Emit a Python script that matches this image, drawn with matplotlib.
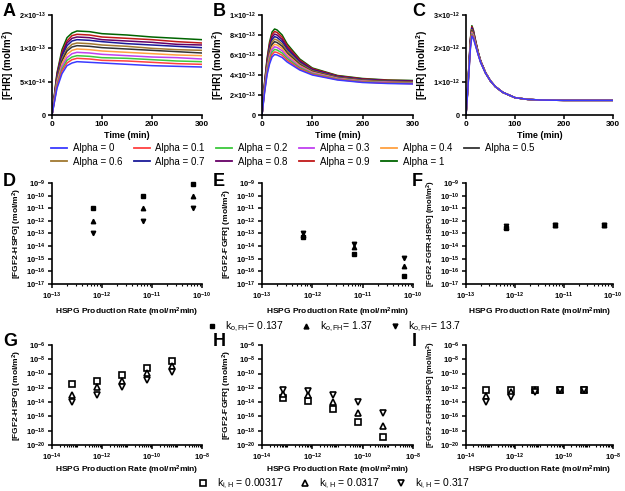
import matplotlib
matplotlib.use("Agg")
import matplotlib.pyplot as plt
from matplotlib.lines import Line2D
from matplotlib.ticker import FixedLocator, FixedFormatter, LogLocator, NullFormatter

plt.rcParams["font.family"] = ["Liberation Sans", "DejaVu Sans"]
plt.rcParams["mathtext.fontset"] = "custom"
plt.rcParams["mathtext.rm"] = "Liberation Sans"
plt.rcParams["mathtext.it"] = "Liberation Sans:italic"
plt.rcParams["mathtext.bf"] = "Liberation Sans:bold"

W, H = 625, 491

# ── Data: time courses (A-C) ────────────────────────────────────────────────
ALPHAS = [0, 0.1, 0.2, 0.3, 0.4, 0.5, 0.6, 0.7, 0.8, 0.9, 1]
ALPHA_COLORS = ["#3a3aff", "#ff4040", "#3cc83c", "#c040f0", "#ffa040", "#333333",
                "#a07830", "#1a1a99", "#660066", "#c01818", "#006400"]

TIME_A = [0, 5, 10, 20, 30, 40, 50, 75, 100, 150, 200, 250, 300]
FHR_A = [  # x 1e-13 mol/m2
    [0, 0.20, 0.40, 0.62, 0.74, 0.78, 0.80, 0.79, 0.78, 0.76, 0.74, 0.73, 0.72],
    [0, 0.21, 0.43, 0.66, 0.78, 0.83, 0.85, 0.84, 0.82, 0.81, 0.79, 0.77, 0.76],
    [0, 0.22, 0.45, 0.69, 0.82, 0.87, 0.89, 0.88, 0.86, 0.85, 0.83, 0.81, 0.80],
    [0, 0.24, 0.47, 0.73, 0.86, 0.92, 0.94, 0.93, 0.91, 0.89, 0.87, 0.86, 0.84],
    [0, 0.25, 0.50, 0.77, 0.91, 0.97, 0.99, 0.98, 0.96, 0.94, 0.92, 0.90, 0.89],
    [0, 0.26, 0.52, 0.81, 0.96, 1.02, 1.04, 1.03, 1.01, 0.99, 0.97, 0.95, 0.93],
    [0, 0.27, 0.54, 0.84, 0.99, 1.06, 1.08, 1.07, 1.05, 1.03, 1.00, 0.98, 0.97],
    [0, 0.28, 0.57, 0.88, 1.04, 1.11, 1.13, 1.12, 1.10, 1.07, 1.05, 1.03, 1.01],
    [0, 0.29, 0.59, 0.91, 1.08, 1.15, 1.17, 1.16, 1.13, 1.11, 1.09, 1.06, 1.05],
    [0, 0.30, 0.61, 0.94, 1.11, 1.19, 1.21, 1.20, 1.17, 1.15, 1.13, 1.10, 1.08],
    [0, 0.32, 0.63, 0.98, 1.16, 1.23, 1.26, 1.25, 1.22, 1.20, 1.17, 1.15, 1.13],
]

TIME_B = [0, 5, 10, 15, 20, 25, 30, 40, 50, 75, 100, 150, 200, 250, 300]
FHR_B = [  # x 1e-13 mol/m2
    [0, 2.20, 4.00, 5.10, 5.80, 6.05, 6.00, 5.75, 5.30, 4.50, 4.00, 3.50, 3.25, 3.15, 3.10],
    [0, 2.30, 4.16, 5.32, 6.05, 6.31, 6.25, 5.98, 5.48, 4.61, 4.07, 3.55, 3.29, 3.19, 3.14],
    [0, 2.40, 4.32, 5.54, 6.30, 6.56, 6.50, 6.20, 5.66, 4.72, 4.14, 3.59, 3.33, 3.22, 3.17],
    [0, 2.50, 4.48, 5.76, 6.55, 6.82, 6.75, 6.43, 5.84, 4.83, 4.21, 3.64, 3.37, 3.26, 3.21],
    [0, 2.60, 4.64, 5.98, 6.80, 7.07, 7.00, 6.65, 6.02, 4.94, 4.28, 3.68, 3.41, 3.29, 3.24],
    [0, 2.70, 4.80, 6.20, 7.05, 7.33, 7.25, 6.88, 6.20, 5.05, 4.35, 3.73, 3.45, 3.33, 3.28],
    [0, 2.80, 4.96, 6.42, 7.30, 7.58, 7.50, 7.10, 6.38, 5.16, 4.42, 3.77, 3.49, 3.36, 3.31],
    [0, 2.90, 5.12, 6.64, 7.55, 7.84, 7.75, 7.33, 6.56, 5.27, 4.49, 3.82, 3.53, 3.40, 3.35],
    [0, 3.00, 5.28, 6.86, 7.80, 8.09, 8.00, 7.55, 6.74, 5.38, 4.56, 3.86, 3.57, 3.43, 3.38],
    [0, 3.10, 5.44, 7.08, 8.05, 8.35, 8.25, 7.78, 6.92, 5.49, 4.63, 3.91, 3.61, 3.47, 3.42],
    [0, 3.20, 5.60, 7.30, 8.30, 8.60, 8.50, 8.00, 7.10, 5.60, 4.70, 3.95, 3.65, 3.50, 3.45],
]

TIME_C = [0, 3, 6, 9, 12, 15, 20, 25, 30, 40, 50, 60, 75, 100, 125, 150, 200, 250, 300]
FHR_C_HEAD = [  # x 1e-12 mol/m2, t = 0..40
    [0, 0.60, 1.30, 2.00, 2.37, 2.30, 2.05, 1.80, 1.57, 1.25],
    [0, 0.61, 1.32, 2.03, 2.40, 2.33, 2.07, 1.81, 1.58, 1.25],
    [0, 0.62, 1.34, 2.06, 2.43, 2.35, 2.08, 1.82, 1.58, 1.25],
    [0, 0.63, 1.36, 2.09, 2.46, 2.38, 2.10, 1.82, 1.59, 1.26],
    [0, 0.64, 1.38, 2.12, 2.49, 2.40, 2.11, 1.83, 1.59, 1.26],
    [0, 0.65, 1.40, 2.15, 2.53, 2.43, 2.13, 1.84, 1.60, 1.26],
    [0, 0.66, 1.42, 2.18, 2.56, 2.45, 2.14, 1.85, 1.60, 1.26],
    [0, 0.67, 1.44, 2.21, 2.59, 2.48, 2.16, 1.86, 1.61, 1.26],
    [0, 0.68, 1.46, 2.24, 2.62, 2.50, 2.17, 1.86, 1.61, 1.27],
    [0, 0.69, 1.48, 2.27, 2.65, 2.53, 2.19, 1.87, 1.62, 1.27],
    [0, 0.70, 1.50, 2.30, 2.68, 2.55, 2.20, 1.88, 1.62, 1.27],
]
FHR_C_TAIL = [1.02, 0.85, 0.68, 0.52, 0.47, 0.45, 0.44, 0.44, 0.44]  # t = 50..300

# ── Data: HSPG production rate scans ────────────────────────────────────────
RATE_DEF = [6.6e-13, 6.6e-12, 6.6e-11]
KO_LABELS = [r"k$_\mathregular{o,FH}$= 0.137", r"k$_\mathregular{o,FH}$= 1.37",
             r"k$_\mathregular{o,FH}$= 13.7"]
D_VALS = [[1e-11, 1e-10, 8e-10], [1e-12, 1e-11, 1e-10], [1e-13, 1e-12, 1e-11]]
E_VALS = [[5e-14, 2.5e-15, 4e-17], [7e-14, 9e-15, 2.8e-16], [1.1e-13, 1.6e-14, 1.1e-15]]
F_VALS = [[2.6e-13, 4.5e-13, 4.5e-13], [3.3e-13, 4.5e-13, 4.5e-13], [3.6e-13, 4.5e-13, 4.5e-13]]

RATE_GHI = [6.6e-14, 6.6e-13, 6.6e-12, 6.6e-11, 6.6e-10]
KI_LABELS = [r"k$_\mathregular{i,H}$ = 0.00317", r"k$_\mathregular{i,H}$ = 0.0317",
             r"k$_\mathregular{i,H}$ = 0.317"]
G_VALS = [[3.9e-12, 8e-12, 7e-11, 7e-10, 6e-9],
          [1.1e-13, 1.3e-12, 1e-11, 1.3e-10, 1e-9],
          [1.2e-14, 1.1e-13, 1.5e-12, 1.4e-11, 1.6e-10]]
H_VALS = [[4e-14, 1.3e-14, 1e-15, 1.6e-17, 1.5e-19],
          [1.6e-13, 1.1e-13, 1e-14, 3.5e-16, 5e-18],
          [4.5e-13, 3.2e-13, 1.1e-13, 1e-14, 3.5e-16]]
I_VALS = [[4.5e-13, 5.5e-13, 5.5e-13, 5.5e-13, 5.5e-13],
          [8e-14, 2.3e-13, 5.5e-13, 5.5e-13, 5.5e-13],
          [1.2e-14, 5e-14, 2.3e-13, 5.5e-13, 5.5e-13]]

MARKERS = ["s", "^", "v"]


def px_axes(fig, left, top, right, bottom):
    return fig.add_axes([left / W, 1 - bottom / H, (right - left) / W, (bottom - top) / H])


def style(ax, labelsize):
    for s in ["top", "right"]:
        ax.spines[s].set_visible(False)
    for s in ["left", "bottom"]:
        ax.spines[s].set_linewidth(1.2)
    ax.tick_params(which="major", direction="out", length=3, width=1.1,
                   labelsize=labelsize, pad=1.5)
    ax.tick_params(which="minor", direction="out", length=1.6, width=0.8)
    for lab in ax.get_xticklabels() + ax.get_yticklabels():
        lab.set_fontweight("bold")


def letter(fig, x, y, s):
    fig.text(x / W, 1 - y / H, s, fontsize=13, fontweight="bold", va="center", ha="left")


def pow_label(m, e):
    return r"$\mathbf{%s{\times}10^{%d}}$" % (m, e)


def log_label(e):
    return r"$\mathbf{10^{%d}}$" % e


fig = plt.figure(figsize=(W / 100, H / 100), dpi=100)

COLS = [(52, 202), (262, 413), (466, 613)]
LETTER_X = [3, 213, 412]

# ── Row 1: time courses ─────────────────────────────────────────────────────
time_panels = [
    (TIME_A, [[v * 1e-13 for v in r] for r in FHR_A], 1.5e-13,
     [0, 5e-14, 1e-13, 1.5e-13], ["0", pow_label(5, -14), pow_label(1, -13), pow_label(2, -13)]),
    (TIME_B, [[v * 1e-13 for v in r] for r in FHR_B], 1e-12,
     [0, 2e-13, 4e-13, 6e-13, 8e-13, 1e-12],
     ["0", pow_label(2, -13), pow_label(4, -13), pow_label(6, -13), pow_label(8, -13), pow_label(1, -12)]),
    (TIME_C, [[v * 1e-12 for v in r + FHR_C_TAIL] for r in FHR_C_HEAD], 3e-12,
     [0, 1e-12, 2e-12, 3e-12], ["0", pow_label(1, -12), pow_label(2, -12), pow_label(3, -12)]),
]
for (l, r), lx, (t, rows, ymax, yt, ylab), let in zip(COLS, LETTER_X, time_panels, "ABC"):
    ax = px_axes(fig, l, 15, r, 115)
    for i in reversed(range(len(ALPHAS))):
        ax.plot(t, rows[i], color=ALPHA_COLORS[i], lw=1.1)
    ax.set_xlim(0, 300)
    ax.set_ylim(0, ymax)
    ax.set_xticks([0, 100, 200, 300])
    ax.yaxis.set_major_locator(FixedLocator(yt))
    ax.yaxis.set_major_formatter(FixedFormatter(ylab))
    ax.set_xlabel("Time (min)", fontsize=6.5, fontweight="bold", labelpad=2)
    ax.set_ylabel("[FHR] (mol/m$^\\mathbf{2}$)", fontsize=7, fontweight="bold", labelpad=2)
    style(ax, 6)
    ax.tick_params(axis="y", labelsize=5.2)
    letter(fig, lx, 11, let)

handles = [Line2D([], [], color=c, lw=1.3) for c in ALPHA_COLORS]
labels = ["Alpha = %g" % a for a in ALPHAS]
order = [0, 6, 1, 7, 2, 8, 3, 9, 4, 10, 5]
fig.legend([handles[i] for i in order], [labels[i] for i in order], ncol=6,
           loc="center", bbox_to_anchor=(293 / W, 1 - 155 / H), frameon=False,
           fontsize=7, handlelength=1.6, handletextpad=0.6, columnspacing=1.2,
           labelspacing=0.35)

# ── Rows 2 and 3: HSPG production rate scans ───────────────────────────────
ylabels = ["[FGF2-HSPG] (mol/m$^\\mathbf{2}$)", "[FGF2-FGFR] (mol/m$^\\mathbf{2}$)",
           "[FGF2-FGFR-HSPG] (mol/m$^\\mathbf{2}$)"]
ysizes = [6, 6, 5.5]
xlabel = "HSPG Production Rate (mol/m$^\\mathbf{2}$min)"

for (l, r), lx, vals, ylab, ys, let in zip(COLS, LETTER_X, [D_VALS, E_VALS, F_VALS],
                                           ylabels, ysizes, "DEF"):
    ax = px_axes(fig, l, 183, r, 284)
    ax.set_xscale("log")
    ax.set_yscale("log")
    for k in range(3):
        ax.plot(RATE_DEF, vals[k], ls="none", marker=MARKERS[k], ms=3.2,
                color="black", clip_on=False)
    ax.set_xlim(1e-13, 1e-10)
    ax.set_ylim(1e-17, 1e-9)
    ex = list(range(-13, -9))
    ax.xaxis.set_major_locator(FixedLocator([10.0 ** e for e in ex]))
    ax.xaxis.set_major_formatter(FixedFormatter([log_label(e) for e in ex]))
    ax.xaxis.set_minor_locator(LogLocator(base=10, subs=range(2, 10), numticks=20))
    ax.xaxis.set_minor_formatter(NullFormatter())
    ey = list(range(-17, -8))
    ax.yaxis.set_major_locator(FixedLocator([10.0 ** e for e in ey]))
    ax.yaxis.set_major_formatter(FixedFormatter([log_label(e) for e in ey]))
    ax.yaxis.set_minor_locator(FixedLocator([]))
    ax.set_xlabel(xlabel, fontsize=6, fontweight="bold", labelpad=3)
    ax.set_ylabel(ylab, fontsize=ys, fontweight="bold", labelpad=1.5)
    style(ax, 5.5)
    letter(fig, lx, 181, let)

ko_handles = [Line2D([], [], ls="none", marker=m, ms=3.5, color="black") for m in MARKERS]
fig.legend(ko_handles, KO_LABELS, ncol=3, loc="center",
           bbox_to_anchor=(334 / W, 1 - 327 / H), frameon=False, fontsize=7.5,
           handlelength=1.0, handletextpad=0.8, columnspacing=1.6)

for (l, r), lx, vals, ylab, ys, let in zip(COLS, LETTER_X, [G_VALS, H_VALS, I_VALS],
                                           ylabels, ysizes, "GHI"):
    ax = px_axes(fig, l, 345, r, 445)
    ax.set_xscale("log")
    ax.set_yscale("log")
    for k in range(3):
        ax.plot(RATE_GHI, vals[k], ls="none", marker=MARKERS[k], ms=4.8,
                mfc="white", mec="black", mew=1.2, clip_on=False)
    ax.set_xlim(1e-14, 1e-8)
    ax.set_ylim(1e-20, 1e-6)
    ex = list(range(-14, -7, 2))
    ax.xaxis.set_major_locator(FixedLocator([10.0 ** e for e in ex]))
    ax.xaxis.set_major_formatter(FixedFormatter([log_label(e) for e in ex]))
    ax.xaxis.set_minor_locator(LogLocator(base=10, subs=range(1, 10), numticks=30))
    ax.xaxis.set_minor_formatter(NullFormatter())
    ey = list(range(-20, -5, 2))
    ax.yaxis.set_major_locator(FixedLocator([10.0 ** e for e in ey]))
    ax.yaxis.set_major_formatter(FixedFormatter([log_label(e) for e in ey]))
    ax.yaxis.set_minor_locator(FixedLocator([]))
    ax.set_xlabel(xlabel, fontsize=6, fontweight="bold", labelpad=1)
    ax.set_ylabel(ylab, fontsize=ys, fontweight="bold", labelpad=1.5)
    style(ax, 5.5)
    letter(fig, lx, 342, let)

ki_handles = [Line2D([], [], ls="none", marker=m, ms=5, mfc="white", mec="black", mew=1.2)
              for m in MARKERS]
fig.legend(ki_handles, KI_LABELS, ncol=3, loc="center",
           bbox_to_anchor=(334 / W, 1 - 484 / H), frameon=False, fontsize=7.5,
           handlelength=1.0, handletextpad=0.8, columnspacing=1.6)

fig.savefig("out.png", dpi=100)
